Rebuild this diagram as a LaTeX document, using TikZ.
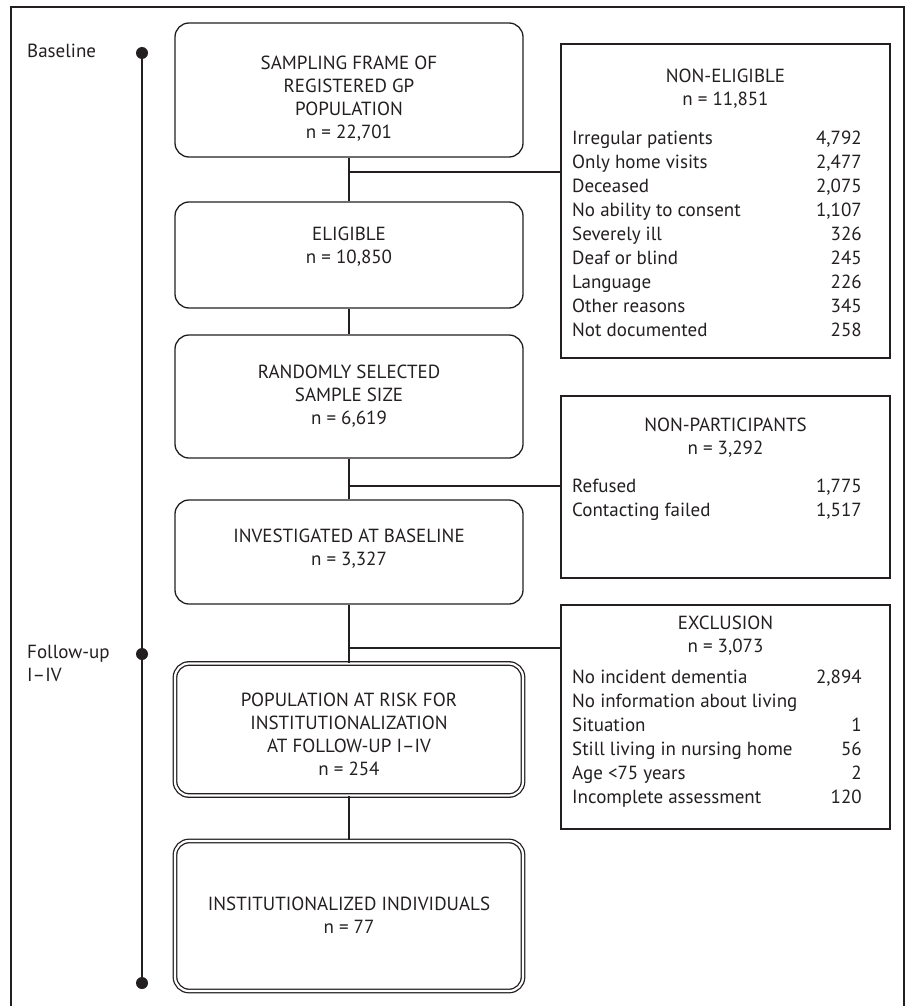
\documentclass[tikz,border=0pt]{standalone}
\usepackage{fontspec}
\setmainfont{PT Sans}
\usetikzlibrary{positioning}

\definecolor{ink}{HTML}{231F20}

\tikzset{
  mainbox/.style={draw=ink, line width=1.3pt, rounded corners=14pt, minimum width=348pt, inner sep=0pt},
  riskbox/.style={mainbox, double, double distance=2.2pt, line width=1.3pt},
  sidebox/.style={draw=ink, line width=1.3pt, minimum width=329pt, inner sep=0pt},
  boxtext/.style={align=center, text=ink, font=\fontsize{19}{23}\selectfont, inner sep=0pt},
  itemtext/.style={text=ink, font=\fontsize{19}{23}\selectfont, inner sep=0pt, text height=13.5pt, text depth=4.5pt},
  link/.style={draw=ink, line width=1.3pt},
  timeline/.style={draw=ink, line width=2pt},
  dot/.style={circle, fill=ink, inner sep=0pt, minimum size=12pt}
}

\begin{document}
\begin{tikzpicture}[x=1pt,y=-1pt]
\useasboundingbox (0,0) rectangle (909,1006);

% outer frame
\draw[ink, line width=1.3pt] (11,1006) -- (11,7) -- (904,7) -- (904,1006);

% time line
\node[dot] (t0) at (142,53) {};
\node[dot] (t1) at (142,654) {};
\node[dot] (t2) at (142,983) {};
\draw[timeline] (t0.center) -- (t2.center);
\node[itemtext, anchor=west] (lbase) at (27,53) {Baseline};
\node[boxtext, align=left, anchor=west] (lfollow) at (27,663) {Follow-up\\I--IV};

% main column
\node[mainbox, minimum height=134pt] (frame) at (349,90) {};
\node[mainbox, minimum height=106pt] (elig) at (349,255) {};
\node[mainbox, minimum height=123pt] (rand) at (349,396.5) {};
\node[mainbox, minimum height=104pt] (inv) at (349,552) {};
\node[riskbox, minimum height=132pt] (risk) at (349,729.5) {};
\node[riskbox, minimum height=150pt] (inst) at (349,916) {};

\node[boxtext] (frame-t) at (349,99) {SAMPLING FRAME OF\\REGISTERED GP\\POPULATION\\n = 22,701};
\node[boxtext] (elig-t) at (349,246.5) {ELIGIBLE\\n = 10,850};
\node[boxtext] (rand-t) at (349,396) {RANDOMLY SELECTED\\SAMPLE SIZE\\n = 6,619};
\node[boxtext] (inv-t) at (349,548.5) {INVESTIGATED AT BASELINE\\n = 3,327};
\node[boxtext] (risk-t) at (349,734) {POPULATION AT RISK FOR\\INSTITUTIONALIZATION\\AT FOLLOW-UP I--IV\\n = 254};
\node[boxtext] (inst-t) at (349,915.5) {INSTITUTIONALIZED INDIVIDUALS\\n = 77};

\draw[link] (frame) -- (elig);
\draw[link] (elig) -- (rand);
\draw[link] (rand) -- (inv);
\draw[link] (inv) -- (risk);
\draw[link] (risk) -- (inst);

% side boxes
\node[sidebox, minimum height=314pt] (nonelig) at (725.5,201) {};
\node[sidebox, minimum height=182pt] (nonpart) at (725.5,487) {};
\node[sidebox, minimum height=224pt] (excl) at (725.5,717) {};

\coordinate (br1) at (349,172);
\coordinate (br2) at (349,486);
\coordinate (br3) at (349,648);
\draw[link] (br1) -- (br1 -| nonelig.west);
\draw[link] (br2) -- (br2 -| nonpart.west);
\draw[link] (br3) -- (br3 -| excl.west);

\node[boxtext] (nonelig-t) at (725.5,89) {NON-ELIGIBLE\\n = 11,851};
\foreach \lbl/\val [count=\k from 0] in {Irregular patients/{4,792}, Only home visits/{2,477}, Deceased/{2,075}, No ability to consent/{1,107}, Severely ill/326, Deaf or blind/245, Language/226, Other reasons/345, Not documented/258}{
  \node[itemtext, anchor=west] (ne-l\k) at (572,140+24*\k) {\lbl};
  \node[itemtext, anchor=east] (ne-v\k) at (862,140+24*\k) {\val};
}

\node[boxtext] (nonpart-t) at (725.5,437.5) {NON-PARTICIPANTS\\n = 3,292};
\foreach \lbl/\val [count=\k from 0] in {Refused/{1,775}, Contacting failed/{1,517}}{
  \node[itemtext, anchor=west] (np-l\k) at (572,488+23.5*\k) {\lbl};
  \node[itemtext, anchor=east] (np-v\k) at (862,488+23.5*\k) {\val};
}

\node[boxtext] (excl-t) at (725.5,636) {EXCLUSION\\n = 3,073};
\foreach \lbl/\val [count=\k from 0] in {No incident dementia/{2,894}, No information about living/{}, Situation/1, Still living in nursing home/56, Age <75 years/2, Incomplete assessment/120}{
  \node[itemtext, anchor=west] (ex-l\k) at (572,679+24*\k) {\lbl};
  \node[itemtext, anchor=east] (ex-v\k) at (862,679+24*\k) {\val};
}
\end{tikzpicture}
\end{document}
